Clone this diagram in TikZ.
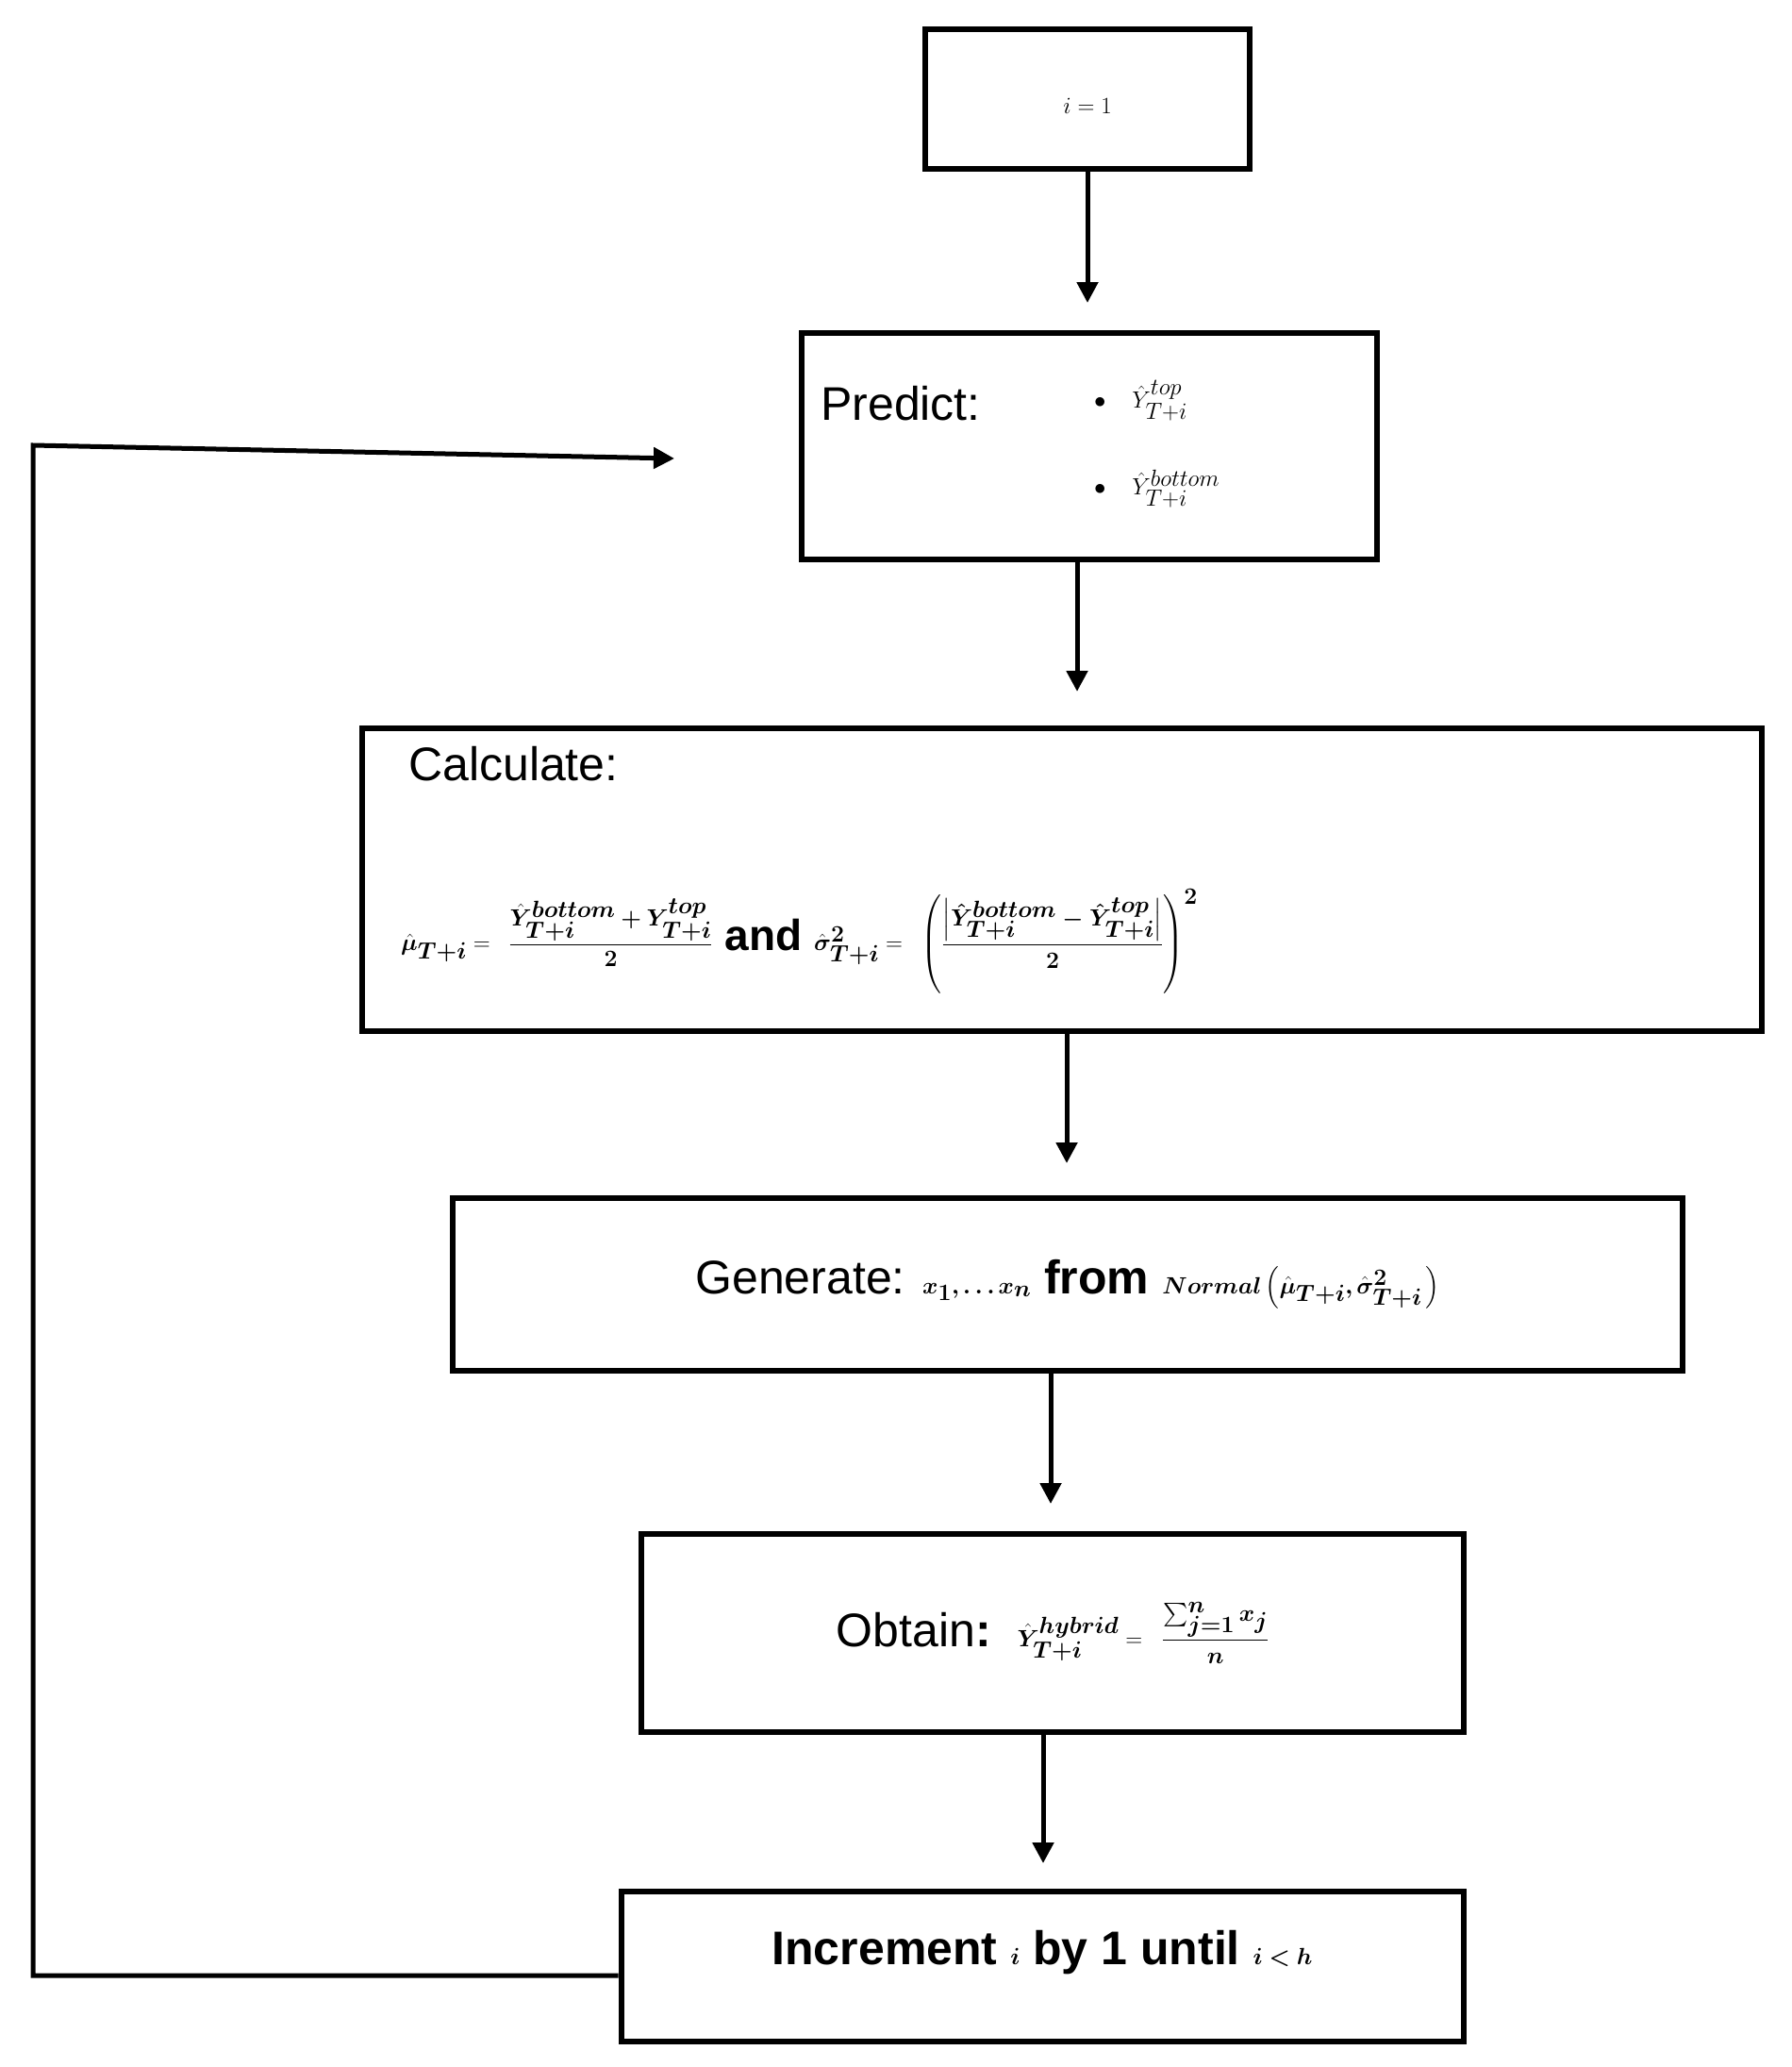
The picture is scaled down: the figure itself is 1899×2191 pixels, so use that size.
\documentclass[tikz,border=0pt]{standalone}
\usepackage{amsmath,bm}
\usepackage{fontspec}
\setmainfont{Liberation Sans}
\usetikzlibrary{arrows.meta}
\begin{document}
\begin{tikzpicture}[x=1pt,y=-1pt,
  box/.style={draw,line width=6pt,inner sep=0pt},
  arr/.style={line width=5pt,-{Triangle[length=22pt,width=22pt]}},
  lbl/.style={inner sep=0pt,font=\fontsize{50}{60}\selectfont}]
\useasboundingbox (0,0) rectangle (1899,2191);
\node[box,minimum width=344pt,minimum height=148pt] (b1) at (1153,105) {};
\node[box,minimum width=610pt,minimum height=240pt] (b2) at (1155,473) {};
\node[box,minimum width=1484pt,minimum height=321pt] (b3) at (1126,932) {};
\node[box,minimum width=1304pt,minimum height=183pt] (b4) at (1132,1361) {};
\node[box,minimum width=872pt,minimum height=210pt] (b5) at (1116,1731) {};
\node[box,minimum width=893pt,minimum height=159pt] (b6) at (1105,2084) {};
\node[lbl] (t1) at (1153,112) {$i=1$};
\node[lbl,anchor=west] (t2) at (870,428) {Predict:};
\node[lbl,anchor=west] (t2a) at (1160,425) {$\bullet\ \ \hat{Y}^{top}_{T+i}$};
\node[lbl,anchor=west] (t2b) at (1160,518) {$\bullet\ \ \hat{Y}^{bottom}_{T+i}$};
\node[lbl,anchor=west] (t3) at (433,810) {Calculate:};
\node[lbl,anchor=west,font=\fontsize{46}{56}\selectfont] (t3a) at (425,998)
 {$\bm{\hat{\mu}_{T+i}}=\ \dfrac{\bm{\hat{Y}^{bottom}_{T+i}+Y^{top}_{T+i}}}{\bm{2}}$ \textbf{and} $\bm{\hat{\sigma}^2_{T+i}}=\ \bm{\left(\dfrac{\left|\hat{Y}^{bottom}_{T+i}-\hat{Y}^{top}_{T+i}\right|}{2}\right)^{2}}$};
\node[lbl,font=\fontsize{50}{60}\selectfont] (t4) at (1132,1361)
 {Generate: $\bm{x_1,\ldots x_n}$ \textbf{from} $\bm{Normal\left(\hat{\mu}_{T+i},\hat{\sigma}^2_{T+i}\,\right)}$};
\node[lbl] (t5) at (1116,1731)
 {Obtain\textbf{:}\ \ $\bm{\hat{Y}^{hybrid}_{T+i}}=\ \bm{\dfrac{\sum_{j=1}^{n}x_j}{n}}$};
\node[lbl] (t6) at (1105,2070) {\textbf{Increment $\bm{i}$ by 1 until $\bm{i<h}$}};
\coordinate (c1) at (35,472);
\coordinate (c2) at (35,2094);
\coordinate (c3) at (715,486);
\draw[arr] (b1) -- (b1.south |- 0,321);
\draw[arr] (b2.south -| 1142,0) -- (1142,733);
\draw[arr] (b3.south -| 1131,0) -- (1131,1233);
\draw[arr] (b4.south -| 1114,0) -- (1114,1594);
\draw[arr] (b5.south -| 1106,0) -- (1106,1975);
\draw[arr] (b6.west |- c2) -- (c2) -- (c1) -- (c3);
\end{tikzpicture}
\end{document}
